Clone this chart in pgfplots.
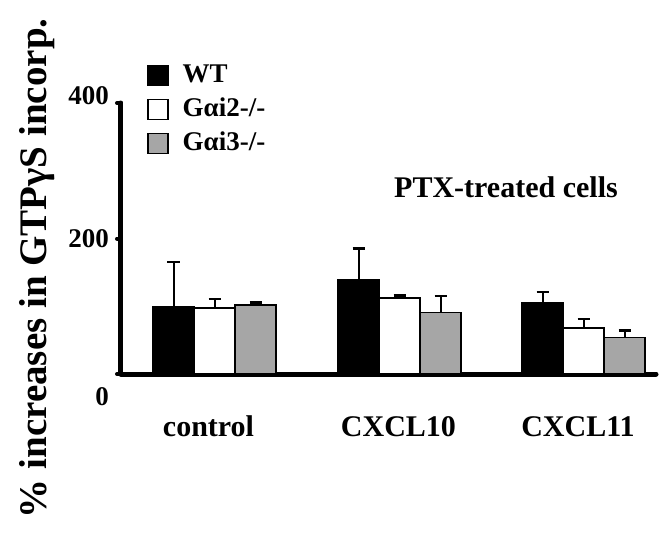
\documentclass[border=0pt]{standalone}
\usepackage{fontspec}
\setmainfont{Liberation Serif}
\usepackage{pgfplots}
\pgfplotsset{compat=1.18}
\definecolor{barGray}{RGB}{166,166,166}
\begin{document}
\begin{tikzpicture}[x=1pt,y=1pt]
\useasboundingbox (0,0) rectangle (672,533);
\begin{axis}[
  at={(121pt,159pt)}, anchor=south west,
  scale only axis, width=535pt, height=271pt,
  xmin=0, xmax=535, ymin=0, ymax=400,
  clip=false,
  axis lines=left,
  axis line style={line width=5pt, -, line cap=round},
  tick align=outside,
  major tick length=4pt,
  ytick={0,200,400},
  yticklabels={{\smash{\raisebox{-31pt}{0}}},{\smash{\raisebox{-9pt}{200}}},{\smash{\raisebox{-1pt}{400}}}},
  ytick style={line width=4pt, black, line cap=round},
  yticklabel style={anchor=east, xshift=-8pt, inner sep=0pt, font=\bfseries\fontsize{27}{27}\selectfont},
  xtick={87.5,277.5,457},
  xticklabels={control,CXCL10,CXCL11},
  xtick style={draw=none},
  xticklabel style={anchor=base, yshift=-58pt, font=\bfseries\fontsize{30}{30}\selectfont},
  ylabel={\% increases in GTPγS incorp.},
  every axis y label/.style={at={(axis cs:-84,156)}, rotate=90, anchor=center, font=\bfseries\fontsize{39}{39}\selectfont},
  legend image code/.code={\draw[#1, line width=1.5pt] (0pt,-10pt) rectangle (20pt,10pt);},
  legend style={at={(axis cs:26,460)}, anchor=north west, draw=none, fill=none, inner sep=0pt,
    font=\bfseries\fontsize{27}{27}\selectfont, row sep=8pt, column sep=14pt,
    nodes={inner sep=0pt, text height=20pt, text depth=6pt}},
  legend cell align=left,
  every axis plot/.append style={ybar, bar width=41pt, bar shift=0pt, draw=black, line width=1.5pt,
    error bars/y dir=plus, error bars/y explicit,
    error bars/error bar style={line width=2pt, black},
    error bars/error mark options={rotate=90, line width=2.5pt, mark size=6pt, black}},
]
\addplot[fill=black]
  coordinates {(52.5,99) +- (0,66) (237.5,139) +- (0,46) (421.5,105) +- (0,16)};
\addplot[fill=white]
  coordinates {(93.5,97.5) +- (0,13) (278.5,112.5) +- (0,3) (462.5,68) +- (0,13)};
\addplot[fill=barGray]
  coordinates {(134.5,101.5) +- (0,4) (319.5,91) +- (0,24) (503.5,54) +- (0,10)};
\legend{WT,Gαi2-/-,Gαi3-/-}
\node[anchor=base, font=\bfseries\fontsize{30}{30}\selectfont] at (axis cs:385,260) {PTX-treated cells};
\end{axis}
\end{tikzpicture}
\end{document}
